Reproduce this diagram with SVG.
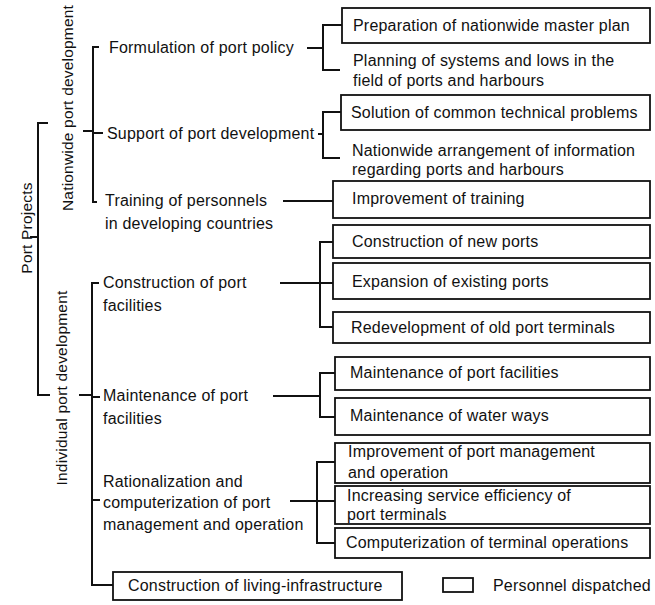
<svg xmlns="http://www.w3.org/2000/svg" width="655" height="605" viewBox="0 0 655 605">
  <style>
    .t { font-family: "Liberation Sans", Arial, sans-serif; font-size: 16px; letter-spacing: 0.2px; fill: #111; }
    .v { font-family: "Liberation Sans", Arial, sans-serif; font-size: 15.5px; letter-spacing: 0.2px; fill: #111; text-anchor: middle; }
    .box { fill: #fff; stroke: #111; stroke-width: 1.8; }
    .ln { fill: none; stroke: #111; stroke-width: 2; }
  </style>
  <rect width="655" height="605" fill="#fff"/>

  <!-- connectors -->
  <g id="connectors" class="ln">
    <!-- root bracket -->
    <path d="M30,237 H38"/>
    <path d="M48,123 H38 V395 H50"/>
    <path d="M83,131 H93"/>
    <path d="M79,395 H92"/>
    <!-- nationwide bracket -->
    <path d="M99,47 H93 V202 H97"/>
    <path d="M93,133 H103"/>
    <!-- individual bracket -->
    <path d="M99,283 H92 V585 H113"/>
    <path d="M92,397 H100"/>
    <path d="M92,500 H100"/>
    <!-- formulation -->
    <path d="M307,48 H323"/>
    <path d="M342,25 H323 V70 H340"/>
    <!-- support -->
    <path d="M318,134 H323"/>
    <path d="M341,112 H323 V158 H340"/>
    <!-- training -->
    <path d="M283,201 H333"/>
    <!-- construction -->
    <path d="M280,283 H333"/>
    <path d="M333,242 H320 V327 H333"/>
    <!-- maintenance -->
    <path d="M273,396 H320"/>
    <path d="M335,373 H320 V417 H335"/>
    <!-- rationalization -->
    <path d="M290,501 H335"/>
    <path d="M335,462 H317 V543 H335"/>
  </g>

  <!-- root and branch labels -->
  <g id="port-projects"><text class="v" transform="translate(32,228) rotate(-90)">Port Projects</text></g>
  <g id="nationwide"><text class="v" transform="translate(73,108) rotate(-90)">Nationwide port development</text></g>
  <g id="individual"><text class="v" transform="translate(67,388) rotate(-90)">Individual port development</text></g>

  <!-- second level -->
  <g id="formulation"><text class="t" x="109" y="53">Formulation of port policy</text></g>
  <g id="support"><text class="t" x="107" y="139">Support of port development</text></g>
  <g id="training">
    <text class="t" x="105" y="206">Training of personnels</text>
    <text class="t" x="105" y="229">in developing countries</text>
  </g>
  <g id="construction">
    <text class="t" x="103" y="288">Construction of port</text>
    <text class="t" x="103" y="311">facilities</text>
  </g>
  <g id="maintenance">
    <text class="t" x="103" y="401">Maintenance of port</text>
    <text class="t" x="103" y="424">facilities</text>
  </g>
  <g id="rationalization">
    <text class="t" x="103" y="487">Rationalization and</text>
    <text class="t" x="103" y="508">computerization of port</text>
    <text class="t" x="103" y="530">management and operation</text>
  </g>
  <g id="living">
    <rect class="box" x="113" y="572" width="289" height="28"/>
    <text class="t" x="128" y="591">Construction of living-infrastructure</text>
  </g>

  <!-- third level -->
  <g id="master-plan">
    <rect class="box" x="342" y="8" width="308" height="35"/>
    <text class="t" x="353" y="31">Preparation of nationwide master plan</text>
  </g>
  <g id="planning">
    <text class="t" x="353" y="66">Planning of systems and lows in the</text>
    <text class="t" x="353" y="86">field of ports and harbours</text>
  </g>
  <g id="technical">
    <rect class="box" x="341" y="95" width="309" height="35"/>
    <text class="t" x="351" y="118">Solution of common technical problems</text>
  </g>
  <g id="information">
    <text class="t" x="352" y="156">Nationwide arrangement of information</text>
    <text class="t" x="352" y="175">regarding ports and harbours</text>
  </g>
  <g id="improve-training">
    <rect class="box" x="333" y="181" width="317" height="37"/>
    <text class="t" x="352" y="204">Improvement of training</text>
  </g>
  <g id="new-ports">
    <rect class="box" x="333" y="225" width="317" height="33"/>
    <text class="t" x="352" y="247">Construction of new ports</text>
  </g>
  <g id="expansion">
    <rect class="box" x="333" y="263" width="317" height="36"/>
    <text class="t" x="352" y="287">Expansion of existing ports</text>
  </g>
  <g id="redevelopment">
    <rect class="box" x="333" y="312" width="317" height="31"/>
    <text class="t" x="351" y="333">Redevelopment of old port terminals</text>
  </g>
  <g id="maint-facilities">
    <rect class="box" x="335" y="357" width="315" height="33"/>
    <text class="t" x="350" y="378">Maintenance of port facilities</text>
  </g>
  <g id="maint-waterways">
    <rect class="box" x="335" y="398" width="315" height="37"/>
    <text class="t" x="350" y="421">Maintenance of water ways</text>
  </g>
  <g id="port-management">
    <rect class="box" x="335" y="443" width="315" height="40"/>
    <text class="t" x="348" y="457">Improvement of port management</text>
    <text class="t" x="348" y="478">and operation</text>
  </g>
  <g id="service-efficiency">
    <rect class="box" x="335" y="486" width="315" height="38"/>
    <text class="t" x="347" y="501">Increasing service efficiency of</text>
    <text class="t" x="347" y="520">port terminals</text>
  </g>
  <g id="terminal-computerization">
    <rect class="box" x="335" y="528" width="315" height="30"/>
    <text class="t" x="346" y="548">Computerization of terminal operations</text>
  </g>

  <!-- legend -->
  <g id="legend">
    <rect class="box" x="443" y="578" width="30" height="14"/>
    <text class="t" x="493" y="591">Personnel dispatched</text>
  </g>
</svg>
